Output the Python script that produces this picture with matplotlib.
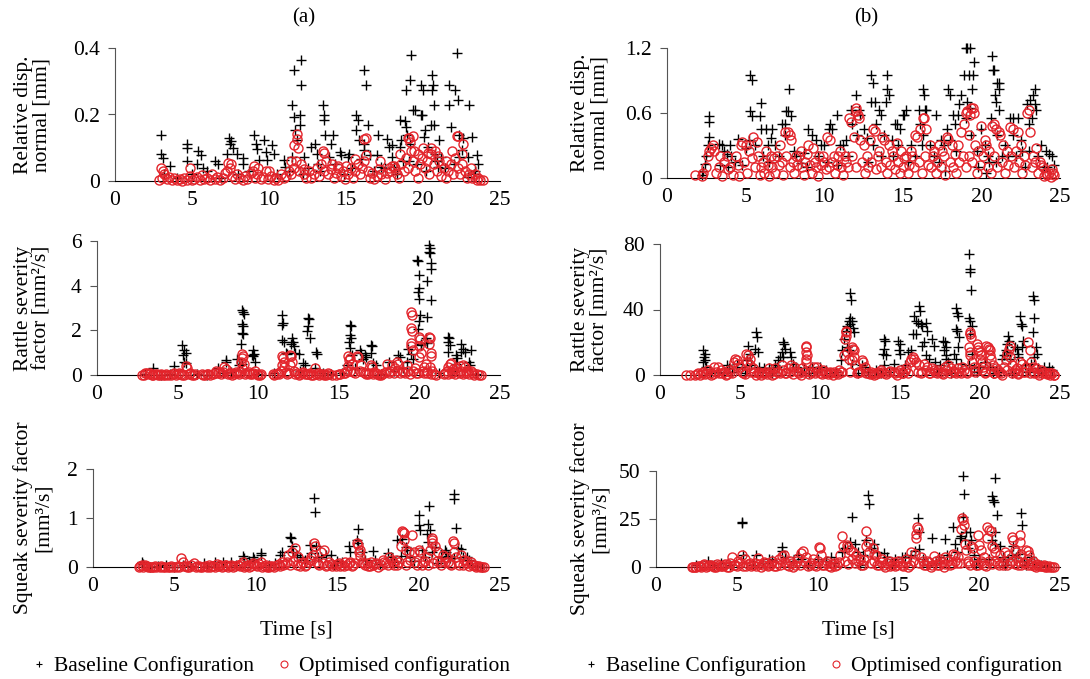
import numpy as np
import matplotlib
matplotlib.use('Agg')
import matplotlib.pyplot as plt
from matplotlib.lines import Line2D

plt.rcParams['font.family'] = 'Liberation Serif'

W, H = 1090, 679
RED = '#e3242b'
FS = 15.5

# ---- (a) relative displacement normal [mm] ----
disp_a_base = [(2.98,0.137),(3.0,0.08),(3.1,0.07),(3.6,0.046),(4.7,0.11),(4.7,0.10),(4.7,0.06),(5.4,0.09),(5.6,0.077),
    (5.3,0.05),(5.7,0.04),(6.5,0.06),(6.7,0.05),(7.4,0.13),(7.55,0.12),(7.45,0.11),(7.65,0.10),(7.9,0.08),(7.3,0.08),
    (8.3,0.07),(8.3,0.05),(9.0,0.137),(9.15,0.112),(9.25,0.097),(9.7,0.124),(9.8,0.087),(9.36,0.062),(9.9,0.062),
    (10.2,0.107),(10.3,0.082),(10.95,0.062),(11.05,0.041),(11.6,0.334),(12.1,0.365),(12.1,0.289),(11.5,0.228),
    (11.65,0.191),(12.0,0.198),(11.7,0.153),(12.0,0.168),(11.8,0.122),(12.3,0.072),(11.5,0.072),(12.75,0.102),
    (13.0,0.112),(13.1,0.082),(13.2,0.052),(13.5,0.228),(13.6,0.198),(13.6,0.183),(13.65,0.137),(14.15,0.137),
    (14.0,0.11),(13.9,0.072),(14.6,0.087),(14.7,0.077),(15.1,0.072),(15.2,0.082),(15.65,0.198),(15.75,0.183),
    (15.65,0.153),(15.85,0.122),(16.2,0.092),(16.0,0.067),(16.2,0.334),(16.3,0.289),(16.4,0.168),(16.2,0.112),
    (16.55,0.077),(17.1,0.137),(17.0,0.077),(17.25,0.041),(17.65,0.127),(17.8,0.102),(18.0,0.107),(18.0,0.072),
    (18.1,0.041),(18.5,0.183),(18.8,0.181),(18.9,0.163),(18.95,0.137),(18.55,0.122),(18.5,0.102),(19.15,0.112),
    (19.25,0.38),(19.15,0.304),(18.9,0.274),(19.35,0.213),(19.45,0.213),(19.9,0.289),(20.0,0.274),(19.85,0.198),
    (19.95,0.198),(20.1,0.153),(20.05,0.132),(20.6,0.319),(20.65,0.289),(20.6,0.274),(20.7,0.228),(20.55,0.168),
    (20.7,0.168),(20.3,0.102),(20.75,0.082),(21.05,0.122),(21.2,0.072),(21.0,0.041),(21.7,0.289),(21.7,0.228),
    (21.8,0.163),(22.2,0.385),(22.1,0.274),(22.25,0.243),(22.35,0.137),(22.6,0.130),(22.55,0.092),(22.9,0.072),
    (22.35,0.072),(23.0,0.228),(23.15,0.132),(22.9,0.011),(23.5,0.077),(23.6,0.052),(23.4,0.031),
    (3.2,0.02),(4.0,0.01),(5.0,0.02),(6.0,0.03),(6.9,0.01),(8.0,0.02),(8.7,0.03),(10.5,0.02),(11.3,0.03),(12.5,0.04),
    (13.3,0.03),(14.3,0.05),(15.4,0.04),(16.8,0.03),(17.5,0.04),(18.3,0.02),(19.6,0.05),(20.2,0.03),(21.4,0.04),
    (22.0,0.05),(23.3,0.02),(12.2,0.02),(14.9,0.02),(18.7,0.06),(19.1,0.06),(20.9,0.06)]
disp_a_opt = [(11.65,0.108),(11.8,0.14),(11.85,0.125),(11.9,0.10),(13.5,0.09),(13.6,0.083),(16.2,0.125),(16.3,0.13),
    (16.3,0.077),(19.0,0.13),(19.1,0.13),(19.35,0.135),(19.15,0.118),(19.4,0.09),(18.5,0.08),(20.0,0.10),(20.5,0.10),
    (20.8,0.09),(21.0,0.075),(22.2,0.135),(22.3,0.135),(22.6,0.11),(22.55,0.08),(21.9,0.09),(15.6,0.065),(17.2,0.06),
    (18.0,0.045),(18.2,0.04),(7.35,0.055),(7.5,0.05),(3.0,0.04),(3.1,0.03),(4.9,0.04),(9.0,0.045),(9.3,0.04),
    (10.0,0.03),(11.4,0.06),(12.3,0.035),(14.1,0.05),(14.5,0.04),(15.0,0.045),(19.7,0.08),(20.3,0.085),(21.5,0.06),
    (23.1,0.04),(2.85,0.003),(3.05,0.01),(3.2,0.02),(3.35,0.005),(3.5,0.012),(3.7,0.003),(3.85,0.008),(4.0,0.002),
    (4.2,0.006),(4.35,0.001),(4.5,0.009),(4.7,0.004),(4.85,0.015),(5.0,0.003),(5.15,0.007),(5.3,0.012),(5.5,0.002),
    (5.65,0.018),(5.8,0.006),(6.0,0.01),(6.15,0.003),(6.3,0.02),(6.5,0.005),(6.65,0.012),(6.8,0.002),(7.0,0.008),
    (7.15,0.025),(7.3,0.03),(7.45,0.04),(7.6,0.015),(7.8,0.005),(7.95,0.02),(8.1,0.01),(8.3,0.003),(8.45,0.015),
    (8.6,0.007),(8.8,0.025),(8.95,0.03),(9.1,0.01),(9.25,0.02),(9.45,0.005),(9.6,0.012),(9.8,0.03),(9.95,0.006),
    (10.1,0.015),(10.3,0.002),(10.45,0.01),(10.6,0.004),(10.8,0.02),(10.95,0.008),(11.1,0.015),(11.3,0.03),
    (11.45,0.02),(11.6,0.04),(11.75,0.06),(11.95,0.03),(12.1,0.05),(12.25,0.02),(12.4,0.01),(12.6,0.03),(12.75,0.008),
    (12.9,0.02),(13.1,0.04),(13.25,0.015),(13.4,0.05),(13.55,0.03),(13.7,0.06),(13.85,0.02),(14.0,0.035),(14.2,0.01),
    (14.35,0.025),(14.5,0.045),(14.65,0.015),(14.8,0.03),(14.95,0.005),(15.1,0.02),(15.3,0.04),(15.45,0.01),
    (15.6,0.03),(15.75,0.05),(15.9,0.02),(16.05,0.04),(16.2,0.06),(16.4,0.03),(16.55,0.01),(16.7,0.025),(16.85,0.005),
    (17.0,0.015),(17.15,0.035),(17.3,0.02),(17.5,0.005),(17.65,0.025),(17.8,0.04),(17.95,0.03),(18.1,0.045),
    (18.3,0.02),(18.45,0.01),(18.6,0.05),(18.75,0.03),(18.9,0.07),(19.05,0.04),(19.2,0.09),(19.35,0.06),(19.5,0.03),
    (19.65,0.01),(19.8,0.05),(19.95,0.07),(20.1,0.04),(20.25,0.06),(20.4,0.02),(20.55,0.08),(20.7,0.05),(20.9,0.03),
    (21.05,0.06),(21.2,0.015),(21.35,0.04),(21.5,0.01),(21.65,0.03),(21.8,0.05),(21.95,0.02),(22.1,0.07),(22.25,0.04),
    (22.4,0.02),(22.55,0.05),(22.7,0.03),(22.85,0.01),(23.0,0.02),(23.2,0.008),(23.4,0.02),(23.5,0.004),(23.6,0.01),
    (23.7,0.002),(23.9,0.003)]

# ---- (b) relative displacement normal [mm] ----
disp_b_base = [(2.7,0.57),(2.7,0.52),(2.65,0.38),(2.6,0.3),(2.5,0.2),(2.4,0.13),(2.3,0.06),(2.2,0.03),
    (3.3,0.31),(3.5,0.3),(3.6,0.25),(3.8,0.22),(4.0,0.3),(4.1,0.2),(4.3,0.15),(3.4,0.12),(4.5,0.36),
    (5.3,0.95),(5.4,0.9),(5.3,0.62),(5.4,0.57),(5.2,0.35),(5.6,0.3),(5.0,0.28),
    (6.0,0.69),(5.9,0.57),(6.0,0.45),(6.3,0.45),(6.4,0.3),(6.1,0.2),(6.7,0.45),(6.6,0.37),(6.9,0.3),
    (7.3,0.5),(7.5,0.5),(7.6,0.62),(7.7,0.62),(7.75,0.82),(7.9,0.57),(7.5,0.4),(8.1,0.25),(8.2,0.2),(8.5,0.14),(8.7,0.23),
    (9.0,0.45),(9.2,0.4),(9.5,0.35),(9.8,0.3),(10.0,0.3),(10.3,0.45),(10.5,0.45),(10.4,0.5),(10.8,0.58),(11.0,0.3),
    (11.2,0.3),(11.4,0.35),(10.9,0.12),(11.7,0.63),(12.0,0.77),(12.2,0.63),(12.3,0.58),(11.8,0.5),(12.1,0.4),
    (12.5,0.45),(12.7,0.37),(13.0,0.95),(13.1,0.88),(13.0,0.7),(13.2,0.7),(13.3,0.5),(13.5,0.63),(13.6,0.58),
    (13.8,0.4),(13.1,0.3),(14.0,0.95),(14.0,0.82),(14.1,0.77),(13.95,0.7),(14.3,0.35),(14.5,0.5),(14.6,0.5),
    (14.8,0.45),(15.0,0.58),(15.1,0.58),(15.2,0.63),(14.7,0.3),(15.5,0.3),(16.0,0.63),(16.1,0.5),(16.3,0.82),
    (16.35,0.77),(16.4,0.63),(16.5,0.63),(16.3,0.4),(16.2,0.3),(16.7,0.3),(17.1,0.58),(17.4,0.35),(17.6,0.3),
    (17.8,0.45),(17.9,0.82),(18.0,0.77),(18.2,0.58),(18.5,0.58),(18.3,0.5),(18.6,0.68),(18.7,0.77),(18.0,0.35),
    (17.7,0.06),(18.9,0.95),(19.0,1.2),(19.1,1.2),(19.3,1.2),(19.5,1.07),(19.2,0.95),(19.45,0.95),(19.4,0.82),
    (19.1,0.7),(19.3,0.65),(19.0,0.55),(19.35,0.4),(19.7,0.25),(20.0,0.45),(20.2,0.3),(20.4,0.2),(20.6,0.55),
    (20.7,1.13),(20.75,1.0),(20.8,1.0),(20.85,0.77),(20.9,0.7),(21.0,0.88),(21.1,0.88),(21.1,0.63),(21.15,0.82),
    (21.0,0.4),(20.5,0.15),(20.3,0.05),(21.5,0.3),(21.8,0.55),(22.0,0.55),(22.3,0.55),(22.0,0.4),(22.5,0.35),
    (22.6,0.25),(21.7,0.2),(22.9,0.68),(23.0,0.5),(23.1,0.72),(23.3,0.77),(23.4,0.82),(23.4,0.68),(23.5,0.63),
    (23.2,0.55),(23.0,0.25),(23.8,0.3),(24.1,0.25),(24.3,0.22),(24.5,0.2),(24.2,0.1),(24.6,0.12),
    (3.9,0.1),(4.8,0.12),(6.5,0.15),(7.1,0.2),(8.9,0.1),(9.6,0.2),(10.2,0.15),(11.5,0.2),(12.8,0.15),(13.6,0.2),
    (14.4,0.2),(15.3,0.15),(15.8,0.2),(17.0,0.2),(17.3,0.15),(18.4,0.25),(19.8,0.1),(20.9,0.15),(21.3,0.2),
    (22.2,0.2),(22.8,0.1),(23.6,0.2),(24.0,0.1)]
disp_b_opt = [(1.75,0.03),(2.3,0.05),(2.5,0.1),(2.6,0.2),(2.7,0.25),(2.8,0.28),(2.9,0.3),(3.0,0.25),(3.3,0.1),
    (3.6,0.15),(3.8,0.2),(4.0,0.1),(4.4,0.2),(4.7,0.3),(4.8,0.33),(5.0,0.3),(5.2,0.25),(5.5,0.38),(5.7,0.33),
    (6.0,0.1),(6.3,0.25),(6.6,0.2),(7.0,0.2),(7.2,0.3),(7.5,0.42),(7.7,0.42),(7.85,0.4),(7.9,0.35),(8.2,0.2),
    (8.5,0.25),(8.8,0.15),(9.0,0.3),(9.3,0.28),(9.7,0.2),(10.0,0.15),(10.2,0.38),(10.4,0.35),(10.6,0.2),(11.0,0.25),
    (11.3,0.2),(11.6,0.55),(11.7,0.52),(11.9,0.38),(12.0,0.65),(12.05,0.62),(12.15,0.58),(12.2,0.55),(12.3,0.35),
    (12.5,0.3),(12.9,0.35),(13.1,0.45),(13.2,0.43),(13.5,0.25),(13.7,0.38),(13.8,0.35),(14.1,0.3),(14.3,0.25),
    (14.6,0.32),(14.9,0.25),(15.2,0.2),(15.5,0.25),(15.8,0.4),(15.9,0.38),(16.1,0.45),(16.3,0.55),(16.35,0.55),
    (16.5,0.45),(16.7,0.3),(17.0,0.25),(17.3,0.3),(17.5,0.25),(17.8,0.38),(17.9,0.36),(18.1,0.3),(18.5,0.3),
    (18.7,0.42),(18.9,0.5),(19.0,0.6),(19.1,0.62),(19.3,0.58),(19.35,0.65),(19.45,0.65),(19.5,0.6),(19.2,0.4),
    (19.6,0.3),(19.8,0.25),(20.0,0.48),(20.2,0.35),(20.3,0.3),(20.5,0.25),(20.7,0.48),(20.8,0.5),(20.9,0.45),
    (21.1,0.42),(21.2,0.4),(21.4,0.3),(21.6,0.25),(21.8,0.47),(22.0,0.45),(22.3,0.42),(22.5,0.3),(22.7,0.2),
    (22.9,0.6),(23.0,0.63),(23.1,0.42),(23.3,0.2),(23.5,0.28),(23.7,0.15),(23.9,0.1),(24.1,0.05),(24.3,0.05),
    (24.5,0.08),(24.6,0.03),
    (2.2,0.02),(3.1,0.05),(3.4,0.2),(3.5,0.02),(3.9,0.08),(4.2,0.03),(4.5,0.12),(4.6,0.02),(4.9,0.15),(5.1,0.05),
    (5.4,0.18),(5.6,0.1),(5.8,0.2),(5.9,0.03),(6.1,0.15),(6.2,0.05),(6.4,0.12),(6.5,0.02),(6.7,0.1),(6.8,0.18),
    (6.9,0.05),(7.1,0.12),(7.3,0.15),(7.4,0.03),(7.6,0.2),(7.8,0.1),(8.0,0.15),(8.1,0.05),(8.3,0.12),(8.4,0.2),
    (8.6,0.1),(8.7,0.03),(8.9,0.22),(9.1,0.12),(9.2,0.05),(9.4,0.15),(9.5,0.1),(9.6,0.02),(9.8,0.12),(9.9,0.2),
    (10.1,0.08),(10.3,0.1),(10.5,0.15),(10.7,0.05),(10.8,0.12),(10.9,0.2),(11.1,0.1),(11.2,0.03),(11.4,0.15),
    (11.5,0.1),(11.8,0.2),(12.0,0.1),(12.4,0.15),(12.6,0.05),(12.7,0.2),(12.8,0.1),(13.0,0.15),(13.3,0.08),
    (13.4,0.2),(13.6,0.1),(13.9,0.15),(14.0,0.05),(14.2,0.12),(14.4,0.2),(14.5,0.08),(14.7,0.15),(14.8,0.05),
    (15.0,0.1),(15.1,0.18),(15.3,0.05),(15.4,0.12),(15.6,0.2),(15.7,0.1),(16.0,0.15),(16.2,0.05),(16.4,0.2),
    (16.6,0.12),(16.8,0.1),(16.9,0.2),(17.1,0.05),(17.2,0.15),(17.4,0.1),(17.6,0.2),(17.7,0.03),(18.0,0.15),
    (18.2,0.1),(18.3,0.22),(18.4,0.05),(18.6,0.15),(18.8,0.2),(19.0,0.1),(19.2,0.2),(19.4,0.15),(19.7,0.05),
    (19.9,0.12),(20.1,0.2),(20.4,0.1),(20.6,0.05),(20.8,0.2),(21.0,0.1),(21.3,0.15),(21.5,0.05),(21.7,0.12),
    (21.9,0.2),(22.1,0.1),(22.2,0.25),(22.4,0.15),(22.6,0.05),(22.8,0.12),(23.2,0.1),(23.4,0.15),(23.6,0.05),
    (23.8,0.12),(24.0,0.02),(24.2,0.03),(24.4,0.01),(24.55,0.05)]

# ---- (a) rattle severity factor [mm2/s] ----
rattle_a_base = [(3.5,0.3),(4.8,0.4),(5.3,1.35),(5.4,1.1),(5.5,1.0),(5.35,0.9),(5.4,0.6),(5.5,0.55),
    (7.5,0.3),(8.0,0.65),(8.0,0.6),(8.7,0.7),(8.8,0.45),(9.0,0.5),(9.0,2.9),(9.05,2.8),(9.1,2.75),(9.0,2.3),
    (9.05,2.2),(9.0,1.9),(9.05,1.85),(8.95,1.4),(9.7,1.1),(9.75,0.95),(9.7,0.85),(9.8,0.6),(9.6,0.9),
    (11.5,2.7),(11.55,2.35),(11.5,2.25),(11.45,1.55),(11.6,1.5),(11.7,1.0),(11.8,0.95),(12.1,1.65),(12.15,1.5),
    (12.05,1.4),(12.2,1.3),(12.3,1.0),(12.5,0.95),(12.8,0.55),(12.9,0.45),(13.1,2.55),(13.15,2.5),(13.1,2.2),
    (13.05,1.95),(13.2,1.65),(13.6,1.05),(13.65,0.95),(13.5,0.3),(15.5,0.45),(15.7,2.25),(15.75,2.2),(15.7,1.8),
    (15.75,1.65),(15.65,1.5),(15.7,1.2),(15.8,0.9),(16.3,1.1),(16.35,1.0),(16.6,0.9),(16.7,0.8),(16.5,0.7),
    (17.0,1.35),(17.05,1.3),(17.0,1.0),(17.1,0.55),(17.3,0.45),(18.1,0.6),(18.7,0.9),(18.8,0.8),(19.3,1.15),
    (19.5,0.95),(19.2,0.6),(19.6,0.7),(19.85,5.15),(19.9,5.1),(19.95,4.5),(20.0,3.9),(19.9,3.7),(20.0,3.4),
    (20.05,2.7),(19.95,2.4),(19.9,2.05),(20.1,1.4),(20.1,1.35),(20.6,5.8),(20.65,5.7),(20.6,5.5),(20.65,5.45),
    (20.7,5.0),(20.75,4.75),(20.5,4.2),(20.7,3.35),(20.5,2.6),(20.4,1.65),(20.45,1.45),(21.8,1.7),(21.85,1.65),
    (21.8,1.5),(21.9,1.35),(21.8,1.05),(22.3,0.9),(22.35,0.75),(22.25,0.5),(22.6,1.4),(22.7,1.15),(22.6,1.05),
    (22.8,1.05),(23.2,1.1),(23.1,0.6),(23.15,0.45),
    (3.0,0.05),(4.0,0.02),(4.5,0.05),(6.2,0.03),(6.8,0.02),(7.8,0.1),(8.3,0.15),(10.0,0.05),(11.0,0.1),(12.6,0.2),
    (14.0,0.1),(14.5,0.05),(15.2,0.1),(16.0,0.3),(17.6,0.05),(18.4,0.2),(19.0,0.3),(21.2,0.1),(22.0,0.2),(23.5,0.05)]
rattle_a_opt = [(5.5,0.4),(5.6,0.3),(7.4,0.2),(7.9,0.35),(8.0,0.25),(8.6,0.15),(9.0,0.95),(9.05,0.85),(9.0,0.75),
    (8.95,0.6),(9.1,0.5),(9.0,0.3),(9.8,0.2),(11.5,0.85),(11.55,0.75),(11.6,0.6),(11.45,0.45),(11.6,0.35),
    (12.0,0.9),(12.05,0.85),(12.1,0.6),(12.0,0.45),(13.5,0.3),(15.6,0.85),(15.7,0.75),(15.65,0.65),(15.8,0.5),
    (15.6,0.4),(16.1,0.85),(16.2,0.8),(16.4,0.45),(17.0,0.45),(17.05,0.35),(18.0,0.5),(18.3,0.45),(18.6,0.6),
    (18.7,0.5),(19.2,0.45),(19.5,2.8),(19.55,2.7),(19.5,2.1),(19.55,1.95),(19.5,1.45),(19.45,1.3),(19.6,1.1),
    (20.0,1.7),(20.05,1.6),(20.0,1.3),(20.1,1.0),(20.0,0.8),(20.3,0.35),(20.6,1.7),(20.65,1.65),(20.6,1.4),
    (20.7,1.0),(20.7,0.85),(20.65,0.35),(20.4,0.5),(21.8,0.35),(21.9,0.5),(21.95,0.55),(22.3,0.3),(22.5,0.4),
    (22.7,0.45),(22.8,0.35),(23.2,0.2),
    (2.9,0.02),(3.0,0.08),(3.1,0.1),(3.3,0.08),(3.5,0.02),(3.7,0.03),(3.9,0.01),(4.1,0.02),(4.3,0.05),(4.6,0.01),
    (4.8,0.1),(5.0,0.03),(5.2,0.05),(5.4,0.02),(5.8,0.08),(6.0,0.02),(6.5,0.05),(6.7,0.02),(6.9,0.03),(7.3,0.1),
    (7.6,0.15),(7.7,0.05),(8.2,0.08),(8.4,0.02),(8.8,0.05),(9.3,0.1),(9.5,0.03),(9.7,0.1),(9.9,0.05),(10.1,0.02),
    (10.9,0.05),(11.2,0.1),(11.4,0.2),(11.7,0.15),(11.9,0.1),(12.2,0.2),(12.4,0.1),(12.6,0.05),(12.8,0.15),
    (13.0,0.05),(13.2,0.1),(13.4,0.02),(13.7,0.1),(13.9,0.05),(14.1,0.02),(14.3,0.08),(14.6,0.02),(15.0,0.03),
    (15.3,0.1),(15.5,0.2),(15.9,0.15),(16.3,0.2),(16.6,0.1),(16.8,0.05),(17.2,0.15),(17.4,0.05),(17.6,0.02),
    (17.8,0.1),(18.2,0.2),(18.5,0.3),(18.9,0.2),(19.1,0.1),(19.3,0.2),(19.7,0.3),(19.8,0.1),(20.2,0.2),(20.5,0.1),
    (20.8,0.2),(20.9,0.05),(21.6,0.1),(21.7,0.2),(22.0,0.1),(22.1,0.25),(22.4,0.15),(22.6,0.2),(22.9,0.1),
    (23.0,0.2),(23.3,0.1),(23.6,0.05),(23.8,0.02),
    (2.8,0.02),(3.2,0.04),(3.4,0.0),(3.6,0.05),(3.8,0.01),(4.0,0.04),(4.2,0.0),(4.4,0.02),(4.7,0.05),(4.9,0.0),
    (5.1,0.08),(5.3,0.02),(5.7,0.05),(5.9,0.01),(6.1,0.03),(6.6,0.02),(6.8,0.05),(7.0,0.01),(7.2,0.05),(7.5,0.08),
    (7.8,0.12),(8.1,0.05),(8.3,0.1),(8.5,0.03),(8.7,0.08),(8.9,0.12),(9.2,0.05),(9.4,0.12),(9.6,0.05),(10.0,0.02),
    (10.2,0.05),(11.0,0.02),(11.1,0.06),(11.3,0.03),(11.8,0.05),(12.3,0.05),(12.5,0.02),(12.7,0.08),(12.9,0.03),
    (13.1,0.06),(13.3,0.02),(13.6,0.05),(13.8,0.02),(14.0,0.06),(14.2,0.02),(14.4,0.05),(14.8,0.02),(15.1,0.06),
    (15.4,0.1),(15.7,0.2),(16.0,0.1),(16.5,0.15),(16.7,0.05),(16.9,0.1),(17.1,0.05),(17.3,0.1),(17.5,0.02),
    (17.7,0.05),(17.9,0.15),(18.1,0.1),(18.4,0.1),(18.6,0.2),(18.8,0.1),(19.0,0.15),(19.4,0.05),(19.6,0.2),
    (19.9,0.1),(20.3,0.1),(20.5,0.2),(20.7,0.05),(21.0,0.02),(21.5,0.05),(21.8,0.05),(22.0,0.15),(22.2,0.05),
    (22.5,0.1),(22.7,0.05),(22.9,0.2),(23.1,0.05),(23.4,0.02),(23.7,0.0)]

# ---- (b) rattle severity factor [mm2/s] ----
rattle_b_base = [(2.7,15),(2.8,13),(2.75,11),(2.8,9),(2.7,8),(2.9,5),(4.2,6),(4.3,4),(4.8,7),(5.1,5),
    (5.5,18),(5.6,13),(5.45,9),(5.7,6),(6.0,26),(6.05,23),(5.95,16),(6.1,14),(6.2,5),(6.5,4),(6.8,4),
    (7.2,6),(7.4,9),(7.5,11),(7.6,14),(7.7,20),(7.75,19),(7.8,16),(7.7,11),(7.3,5),(8.1,14),(8.2,11),(8.3,7),
    (8.5,5),(9.0,4),(9.5,5),(10.0,5),(10.4,3),(11.3,9),(11.4,15),(11.5,22),(11.6,27),(11.7,30),(11.8,33),
    (11.9,35),(11.85,31),(11.9,50),(11.95,46),(12.0,33),(12.05,29),(12.1,26),(11.7,17),(11.8,15),(12.0,7),
    (12.6,6),(12.8,5),(13.5,3),(14.0,22),(14.05,21),(14.0,16),(13.95,13),(14.1,12),(14.0,6),(14.6,7),(14.9,21),
    (15.0,19),(14.95,15),(15.0,13),(15.3,6),(15.5,14),(15.7,15),(15.8,25),(15.9,36),(16.0,33),(16.1,32),(16.0,25),
    (16.2,42),(16.25,39),(16.3,31),(16.4,30),(16.5,20),(16.35,18),(16.6,32),(16.7,27),(16.6,12),(16.8,10),
    (17.0,22),(17.1,18),(17.2,8),(17.5,6),(17.7,21),(17.8,20),(17.9,17),(17.75,15),(17.85,12),(17.9,10),(18.0,8),
    (18.5,41),(18.55,38),(18.6,36),(18.5,28),(18.55,27),(18.7,23),(18.6,17),(18.4,13),(18.5,10),(18.8,7),
    (19.3,74),(19.35,65),(19.4,63),(19.45,52),(19.3,35),(19.35,33),(19.5,30),(19.4,25),(19.5,13),(19.3,6),(19.6,4),
    (20.0,5),(20.3,8),(20.6,5),(21.0,3),(21.4,10),(21.5,12),(21.6,15),(21.7,19),(21.75,24),(21.8,21),(21.7,14),
    (21.9,10),(22.2,17),(22.3,16),(22.5,36),(22.55,31),(22.6,30),(22.7,21),(22.65,17),(22.4,13),(22.8,6),(22.4,11),
    (23.3,48),(23.35,46),(23.4,35),(23.3,26),(23.5,17),(23.55,13),(23.4,11),(23.2,7),(23.6,4),(24.0,5),(24.3,5),
    (24.5,3),
    (3.2,1),(3.6,2),(4.0,1),(4.5,2),(5.3,1),(6.4,2),(7.0,1),(8.8,2),(9.3,1),(9.8,2),(10.6,1),(11.0,2),(12.4,1),
    (13.0,2),(13.8,1),(14.3,2),(15.2,1),(17.3,2),(18.2,1),(19.8,2),(20.8,1),(21.2,2),(22.0,1),(23.0,2),(23.8,1)]
rattle_b_opt = [(1.65,0),(2.2,0),(2.4,1),(2.7,2),(3.0,3),(3.4,5),(3.6,5),(3.8,3),(4.3,3),(4.6,8),(4.7,10),
    (4.8,9),(4.9,7),(5.0,5),(5.4,13),(5.5,12),(5.6,10),(5.45,8),(5.6,6),(5.8,4),(6.2,2),(6.8,4),(7.2,4),(7.6,6),
    (8.0,4),(8.2,6),(8.4,5),(8.9,4),(9.1,18),(9.15,17),(9.1,14),(9.2,12),(9.15,10),(9.1,8),(9.6,5),(9.8,5),
    (10.2,3),(10.6,2),(11.2,3),(11.5,12),(11.55,22),(11.6,24),(11.6,27),(11.65,26),(11.7,14),(11.8,10),(12.0,17),
    (12.05,16),(12.1,15),(12.1,11),(12.0,9),(12.2,6),(12.6,9),(12.7,8),(12.8,5),(13.2,2),(13.8,3),(14.3,2),
    (15.0,3),(15.4,4),(15.6,8),(15.7,10),(15.8,11),(15.9,10),(16.0,8),(16.2,6),(16.5,7),(16.7,5),(17.0,4),
    (17.4,3),(17.8,5),(18.0,6),(18.2,4),(18.6,4),(18.9,5),(19.3,17),(19.35,26),(19.4,25),(19.45,23),(19.35,14),
    (19.4,12),(19.5,8),(19.6,5),(19.8,19),(19.85,17),(19.9,15),(20.0,14),(20.05,12),(20.0,10),(20.1,8),(20.2,5),
    (20.4,18),(20.5,17),(20.55,16),(20.6,15),(20.6,12),(20.7,10),(20.8,6),(21.0,4),(21.5,5),(21.6,9),(21.7,13),
    (21.8,16),(21.85,18),(21.9,11),(22.0,6),(22.3,4),(22.5,8),(22.6,7),(22.9,5),(23.0,20),(23.1,15),(23.2,8),
    (23.3,5),(23.5,4),(23.8,3),(24.0,2),(24.3,1),(24.5,1),(24.6,0),
    (2.9,1),(3.2,0),(3.5,2),(3.9,1),(4.1,0),(4.4,2),(5.2,1),(5.9,2),(6.0,0),(6.4,1),(6.6,2),(7.0,0),(7.4,2),(7.8,1),
    (8.6,2),(8.8,0),(9.4,2),(10.0,1),(10.4,2),(10.8,0),(11.0,1),(11.3,2),(12.4,2),(13.0,1),(13.4,0),(13.6,2),
    (14.0,1),(14.6,2),(14.8,0),(15.2,1),(16.4,2),(16.9,1),(17.2,2),(17.6,1),(18.4,2),(18.8,1),(19.1,2),(19.7,2),
    (20.3,2),(20.9,1),(21.2,2),(21.4,0),(22.1,2),(22.4,1),(22.7,2),(23.4,1),(23.7,0),(24.1,1),(24.4,0),
    (1.9,0),(2.3,0.5),(2.5,0),(2.6,1),(2.8,0.5),(3.1,1.5),(3.3,0.5),(3.7,1),(4.0,2),(4.2,0.5),(4.5,1.5),(5.1,2),
    (5.3,0.5),(5.7,2),(6.1,1),(6.3,0),(6.5,1.5),(6.7,0.5),(6.9,2),(7.1,0.5),(7.3,2),(7.5,1),(7.7,3),(7.9,1),(8.1,2),
    (8.3,0.5),(8.5,2.5),(8.7,1),(9.0,2),(9.3,0.5),(9.5,2),(9.7,1),(9.9,2.5),(10.1,0.5),(10.3,1.5),(10.5,0.5),
    (10.7,1),(10.9,2),(11.1,0.5),(11.4,2),(11.9,2),(12.3,1),(12.5,2),(12.9,1),(13.1,0.5),(13.3,1.5),(13.5,0.5),
    (13.7,1),(13.9,2),(14.1,0.5),(14.4,2.5),(14.7,1),(14.9,2),(15.1,1),(15.3,2.5),(15.5,1),(16.1,2),(16.3,1),
    (16.6,3),(16.8,1.5),(17.1,3),(17.3,1),(17.5,2),(17.7,0.5),(17.9,3),(18.1,1),(18.3,2.5),(18.5,1),(18.7,2),
    (19.0,3),(19.2,1),(19.7,3),(20.1,3),(20.3,1),(20.7,3),(20.9,1.5),(21.1,3),(21.3,1),(21.7,3),(22.0,1.5),
    (22.2,3),(22.4,0.5),(22.8,2),(23.1,1),(23.4,2),(23.6,1),(23.9,1.5),(24.2,0.5),(24.4,1),(24.6,0.3)]

# ---- (a) squeak severity factor [mm3/s] ----
squeak_a_base = [(3.0,0.1),(3.1,0.07),(4.5,0.04),(5.5,0.05),(6.8,0.08),(7.5,0.1),(8.0,0.1),(8.5,0.1),(9.2,0.22),
    (9.3,0.18),(9.6,0.13),(9.8,0.2),(9.9,0.17),(10.3,0.28),(10.35,0.25),(11.5,0.25),(11.6,0.3),(12.1,0.62),
    (12.15,0.6),(12.2,0.43),(12.3,0.3),(12.5,0.25),(12.7,0.2),(13.0,0.15),(13.3,0.44),(13.4,0.28),(13.6,1.41),
    (13.65,1.12),(13.7,0.42),(13.8,0.2),(14.0,0.2),(14.3,0.25),(14.6,0.25),(15.0,0.12),(15.3,0.1),(15.7,0.42),
    (15.8,0.3),(16.3,0.78),(16.2,0.56),(16.3,0.5),(16.5,0.3),(16.7,0.15),(17.2,0.33),(17.3,0.15),(18.1,0.28),
    (18.3,0.2),(18.7,0.55),(18.9,0.22),(19.0,0.58),(19.2,0.4),(19.3,0.35),(19.5,0.2),(19.7,0.12),(20.0,1.06),
    (20.05,0.85),(20.1,0.75),(20.2,0.35),(20.4,0.2),(20.6,0.88),(20.65,1.24),(20.7,0.75),(20.5,0.67),(20.55,0.52),
    (20.8,0.3),(21.0,0.4),(21.4,0.2),(21.6,0.35),(21.7,0.3),(21.8,0.23),(21.9,0.18),(22.2,1.5),(22.15,1.38),
    (22.3,0.8),(22.2,0.18),(22.4,0.38),(22.6,0.36),(22.7,0.2),(23.0,0.2),(23.1,0.15),(23.3,0.05),(23.6,0.02),
    (23.9,0.0),(3.5,0.01),(4.0,0.02),(5.0,0.01),(6.0,0.02),(7.0,0.03),(8.8,0.05),(10.8,0.05),(11.2,0.08),(14.8,0.05),
    (17.6,0.06),(18.5,0.1),(21.2,0.08)]
squeak_a_opt = [(3.0,0.05),(3.2,0.04),(5.4,0.18),(5.5,0.1),(6.2,0.08),(7.6,0.06),(8.2,0.05),(9.2,0.1),(9.8,0.08),
    (10.3,0.1),(11.6,0.1),(12.0,0.25),(12.2,0.3),(12.4,0.38),(12.6,0.2),(13.4,0.2),(13.6,0.48),(13.65,0.42),
    (13.5,0.25),(14.0,0.3),(14.2,0.35),(14.5,0.1),(15.5,0.1),(16.2,0.5),(16.3,0.45),(16.4,0.35),(16.35,0.3),
    (16.4,0.22),(17.1,0.1),(17.8,0.15),(18.2,0.2),(18.6,0.15),(18.9,0.42),(19.0,0.74),(19.05,0.72),(19.1,0.7),
    (19.1,0.56),(19.25,0.35),(19.4,0.3),(19.6,0.66),(19.7,0.3),(20.0,0.35),(20.1,0.3),(20.5,0.2),(20.7,0.35),
    (20.8,0.6),(20.85,0.55),(20.8,0.5),(21.0,0.42),(21.2,0.3),(21.5,0.25),(21.7,0.2),(22.1,0.53),(22.15,0.48),
    (22.2,0.3),(22.3,0.2),(22.6,0.25),(22.8,0.15),(23.0,0.12),(23.2,0.1),(23.4,0.05),(23.7,0.02),(24.0,0.0),
    (2.8,0.0),(3.4,0.01),(3.6,0.0),(3.8,0.02),(4.1,0.0),(4.3,0.01),(4.6,0.0),(4.8,0.02),(5.1,0.01),(5.7,0.03),
    (5.9,0.0),(6.4,0.02),(6.6,0.0),(6.9,0.03),(7.2,0.01),(7.4,0.03),(7.8,0.04),(8.0,0.02),(8.4,0.03),(8.6,0.01),
    (8.9,0.04),(9.4,0.03),(9.6,0.01),(10.0,0.04),(10.5,0.02),(10.8,0.0),(11.0,0.02),(11.3,0.04),(11.8,0.06),
    (12.8,0.08),(13.0,0.03),(13.2,0.1),(13.8,0.06),(14.4,0.04),(14.7,0.02),(15.0,0.06),(15.2,0.02),(15.7,0.08),
    (16.0,0.05),(16.6,0.08),(16.9,0.02),(17.3,0.06),(17.5,0.01),(18.0,0.08),(18.4,0.1),(18.7,0.05),(19.3,0.1),
    (19.5,0.15),(19.9,0.05),(20.3,0.1),(20.6,0.05),(21.1,0.12),(21.4,0.05),(21.6,0.1),(21.9,0.06),(22.4,0.1),
    (22.5,0.04),(22.9,0.08),(23.1,0.03),(23.5,0.01),(23.8,0.0),
    (2.9,0.02),(3.1,0.0),(3.3,0.03),(3.5,0.0),(3.7,0.01),(3.9,0.0),(4.2,0.02),(4.4,0.0),(4.7,0.01),(4.9,0.0),
    (5.2,0.03),(5.3,0.0),(5.6,0.02),(5.8,0.0),(6.0,0.04),(6.3,0.01),(6.5,0.03),(6.7,0.01),(7.0,0.0),(7.1,0.04),
    (7.3,0.02),(7.5,0.0),(7.7,0.03),(7.9,0.01),(8.1,0.05),(8.3,0.0),(8.5,0.04),(8.7,0.02),(9.0,0.03),(9.1,0.06),
    (9.3,0.01),(9.5,0.05),(9.7,0.02),(9.9,0.06),(10.1,0.02),(10.2,0.07),(10.4,0.0),(10.6,0.04),(10.7,0.01),
    (10.9,0.03),(11.1,0.0),(11.4,0.06),(11.5,0.02),(11.7,0.05),(11.9,0.1),(12.1,0.04),(12.3,0.12),(12.5,0.05),
    (12.7,0.02),(12.9,0.1),(13.1,0.05),(13.3,0.15),(13.7,0.1),(13.9,0.04),(14.1,0.08),(14.3,0.02),(14.6,0.06),
    (14.9,0.02),(15.1,0.08),(15.3,0.05),(15.4,0.02),(15.6,0.05),(15.8,0.1),(15.9,0.03),(16.1,0.08),(16.5,0.1),
    (16.7,0.04),(16.8,0.08),(17.0,0.03),(17.2,0.05),(17.4,0.08),(17.7,0.04),(17.9,0.1),(18.1,0.05),(18.3,0.15),
    (18.5,0.05),(18.8,0.1),(19.2,0.05),(19.8,0.1),(20.2,0.05),(20.4,0.12),(20.9,0.08),(21.3,0.1),(21.8,0.1),
    (22.0,0.04),(22.7,0.05),(23.3,0.04),(23.6,0.02),(23.9,0.0)]

# ---- (b) squeak severity factor [mm3/s] ----
squeak_b_base = [(2.5,1),(3.2,3),(4.0,2),(5.3,23.5),(5.35,23),(5.4,6),(6.2,6),(7.0,4),(7.2,3.5),(7.8,10.5),
    (7.8,8.5),(8.0,5),(8.5,3),(8.8,6.5),(9.0,4),(10.0,4),(10.5,3),(10.8,5),(11.5,8),(11.7,10),(12.1,26),(12.0,13),
    (12.3,12),(12.5,8),(12.8,6),(13.1,37.5),(13.15,33),(13.0,14),(13.3,10),(13.5,12),(13.7,8),(14.1,7.5),(14.3,5),
    (14.8,4),(15.2,5),(15.4,5),(15.8,6),(16.0,8.5),(16.2,25.5),(16.25,18),(16.3,9.5),(16.5,4),(17.1,15),(17.5,5),
    (17.9,14.5),(18.0,6.5),(18.4,21),(18.5,12),(18.6,8),(18.8,15),(19.0,47.5),(19.05,38),(19.0,26),(18.9,16),
    (19.1,14),(19.2,18),(19.4,18),(19.3,10),(19.5,14),(19.7,6),(20.0,4),(20.6,4),(20.8,37),(20.85,35),(20.9,34),
    (21.0,46.5),(21.1,27),(20.95,18),(20.8,14),(21.0,12),(21.3,11),(21.5,5),(21.8,4),(22.1,11),(22.0,6),(22.3,5),
    (22.6,28),(22.65,22),(22.4,7),(22.8,3),(23.2,5),(23.4,2),(23.8,1),(24.2,0.5),
    (3.6,1),(4.6,1),(6.0,1),(6.6,2),(9.4,1),(11.0,2),(12.6,1),(14.6,1),(16.8,1),(17.3,2),(19.8,1),(21.6,1),(22.9,1)]
squeak_b_opt = [(2.2,0),(2.6,0.5),(3.0,1.5),(3.4,1),(3.8,1.5),(4.2,1),(4.6,2),(4.7,5),(5.1,3),(5.3,6.5),(5.5,4),
    (5.8,2),(6.3,4.5),(6.8,2),(7.2,3),(7.6,4),(7.8,5.5),(7.9,6),(8.3,3),(8.8,4.5),(9.0,7.5),(9.1,8.5),(9.3,5),
    (9.7,4),(10.1,10.5),(10.15,10),(10.2,6.5),(10.6,3),(11.0,2),(11.4,6),(11.5,16),(11.6,11),(11.8,11.5),
    (11.9,10.5),(12.0,9),(12.2,8),(12.4,6),(12.6,4),(13.0,19),(13.1,13),(13.0,11),(13.2,8),(13.4,10),(13.5,7),
    (13.6,6),(14.0,4),(14.4,3),(15.0,3),(15.5,4),(15.8,8),(16.0,7),(16.1,15),(16.15,21),(16.2,20),(16.1,17),
    (16.4,5),(16.8,3),(17.2,5.5),(17.6,4),(17.9,5),(18.4,7),(18.5,6),(18.7,5),(18.9,20),(18.95,25.5),(19.0,24.5),
    (19.05,22),(19.1,12),(19.2,9),(19.5,11),(19.6,10),(19.9,16.5),(20.0,11.5),(20.1,9),(20.3,5),(20.5,21),
    (20.6,19.5),(20.7,19),(20.5,15),(20.8,11),(20.9,10),(21.0,8),(21.3,6),(21.6,8),(21.8,6),(22.0,15.5),(22.1,14),
    (22.2,9),(22.3,8),(22.5,16.5),(22.55,13),(22.6,7),(22.9,9),(23.0,8.5),(23.1,6),(23.3,3),(23.6,1.5),(24.0,0.8),
    (24.3,0.3),(24.6,0.1),
    (2.4,0),(2.8,0),(3.2,0.5),(3.6,0),(4.0,0.5),(4.4,0),(4.9,1),(5.6,0.5),(6.0,1),(6.5,0),(7.0,1),(7.4,0.5),(8.1,1),
    (8.5,0),(9.5,1),(9.9,0.5),(10.4,1),(10.8,0),(11.2,1),(12.8,1),(13.8,1),(14.2,0),(14.6,1),(14.8,0.5),(15.2,1),
    (15.6,0),(16.6,1),(17.0,0),(17.4,1),(17.8,0),(18.2,1),(18.6,2),(19.3,2),(19.8,1),(20.2,2),(20.4,0.5),(21.1,2),
    (21.5,1),(21.9,2),(22.4,1),(22.8,2),(23.2,1),(23.5,0),(23.8,0.5),(24.1,0),(24.4,0),
    (2.3,0.2),(2.5,0),(2.7,0.3),(2.9,0.8),(3.1,0),(3.3,1.2),(3.5,0.5),(3.7,0.2),(3.9,1),(4.1,0.3),(4.3,1.5),
    (4.5,0.2),(4.8,1.2),(5.0,0.4),(5.2,2),(5.4,0.5),(5.7,1.5),(5.9,0.3),(6.1,2),(6.2,0.4),(6.4,1.5),(6.6,0.8),
    (6.7,2.5),(6.9,0.5),(7.1,1.8),(7.3,0.4),(7.5,2.2),(7.7,0.8),(8.0,2.5),(8.2,0.5),(8.4,2),(8.6,1),(8.7,3),(8.9,1),
    (9.2,2.5),(9.4,0.5),(9.6,2),(9.8,1.2),(10.0,3),(10.3,1),(10.5,2),(10.7,0.5),(10.9,1.5),(11.1,0.5),(11.3,2.5),
    (11.7,3),(11.9,1.5),(12.1,4),(12.3,2),(12.5,3),(12.7,1),(12.9,3.5),(13.3,2),(13.5,3),(13.7,1),(13.9,2.5),
    (14.1,1),(14.3,2),(14.5,0.5),(14.7,2.5),(14.9,1),(15.1,2),(15.3,0.5),(15.5,2.5),(15.7,1),(15.9,3),(16.3,2),
    (16.5,3),(16.7,1),(16.9,2.5),(17.1,1),(17.3,3),(17.5,1),(17.7,2.5),(17.9,1.5),(18.1,3),(18.3,1.5),(18.5,3),
    (18.8,2),(19.3,3),(19.4,1),(19.7,3),(19.9,1),(20.1,3),(20.3,1),(20.6,3),(20.8,1.5),(21.0,3),(21.2,1),(21.4,2.5),
    (21.7,1),(22.0,3),(22.2,1.5),(22.4,3),(22.6,1),(22.8,2.5),(23.0,1),(23.2,2),(23.4,0.5),(23.6,1),(23.8,0.3),
    (24.0,0.5),(24.2,0.2),(24.5,0)]

panels = [
    # data base, data opt, (left, right, top, bottom) in px, ymax, yticks, ylabel, ylabel x px
    (disp_a_base, disp_a_opt, (115, 500, 48, 181), 0.4, [0, 0.2, 0.4], 'Relative disp.\nnormal [mm]', 33),
    (disp_b_base, disp_b_opt, (667, 1060, 48, 178), 1.2, [0, 0.6, 1.2], 'Relative disp.\nnormal [mm]', 590),
    (rattle_a_base, rattle_a_opt, (97, 500, 241, 375), 6, [0, 2, 4, 6], 'Rattle severity\nfactor [mm²/s]', 33),
    (rattle_b_base, rattle_b_opt, (660, 1060, 244, 375), 80, [0, 40, 80], 'Rattle severity\nfactor [mm²/s]', 590),
    (squeak_a_base, squeak_a_opt, (93, 500, 469, 567), 2, [0, 1, 2], 'Squeak severity factor\n[mm³/s]', 33),
    (squeak_b_base, squeak_b_opt, (656, 1060, 471, 567), 50, [0, 25, 50], 'Squeak severity factor\n[mm³/s]', 590),
]

fig = plt.figure(figsize=(W / 100, H / 100), dpi=100)

for i, (base, opt, (l, r, t, b), ymax, yt, ylab, ylx) in enumerate(panels):
    ax = fig.add_axes([l / W, 1 - b / H, (r - l) / W, (b - t) / H])
    bx, by = np.array(base).T
    ox, oy = np.array(opt).T
    ax.plot(bx, by, '+', color='black', ms=7, mew=1.0, clip_on=False, zorder=3)
    ax.plot(ox, oy, 'o', mfc='none', mec=RED, ms=6.5, mew=1.0, clip_on=False, zorder=4)
    ax.set_xlim(0, 25)
    ax.set_ylim(0, ymax)
    ax.set_xticks([0, 5, 10, 15, 20, 25])
    ax.set_yticks(yt)
    ax.set_yticklabels([('%g' % v) for v in yt])
    for s in ['top', 'right']:
        ax.spines[s].set_visible(False)
    ax.spines['left'].set_color('#555555')
    ax.spines['bottom'].set_color('black')
    ax.tick_params(axis='x', length=0, pad=7, labelsize=FS)
    ax.tick_params(axis='y', length=5, color='#555555', pad=6, labelsize=FS)
    ax.patch.set_alpha(0)
    if i >= 4:
        ax.set_xlabel('Time [s]', fontsize=FS, labelpad=18)
    fig.text(ylx / W, 1 - ((t + b) / 2) / H, ylab, rotation=90, ha='center', va='center',
             fontsize=FS, linespacing=1.0)

fig.text(304 / W, 1 - 18 / H, '(a)', ha='center', va='center', fontsize=15)
fig.text(866 / W, 1 - 18 / H, '(b)', ha='center', va='center', fontsize=15)

handles = [Line2D([], [], ls='none', marker='+', color='black', ms=5, mew=0.8),
           Line2D([], [], ls='none', marker='o', mfc='none', mec=RED, ms=5, mew=0.8)]
labels = ['Baseline Configuration', 'Optimised configuration']
for cx in [270, 822]:
    fig.legend(handles, labels, loc='center', bbox_to_anchor=(cx / W, 1 - 666 / H), ncol=2,
               frameon=False, fontsize=FS, handlelength=0.8, handletextpad=0.3, columnspacing=1.0)

fig.savefig('out.png', dpi=100)
